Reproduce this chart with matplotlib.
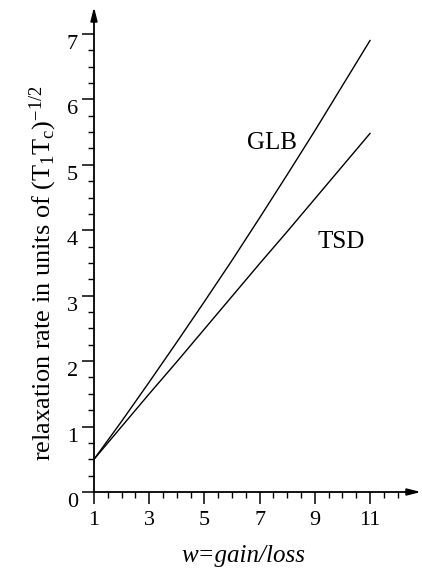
import matplotlib
matplotlib.use("Agg")
import matplotlib.pyplot as plt
from matplotlib.transforms import ScaledTranslation
from matplotlib.ticker import FixedLocator

plt.rcParams['font.family'] = ['Liberation Serif', 'DejaVu Serif']
plt.rcParams['mathtext.fontset'] = 'custom'
plt.rcParams['mathtext.rm'] = 'Liberation Serif'
plt.rcParams['mathtext.it'] = 'Liberation Serif:italic'

w = [1, 2, 3, 4, 5, 6, 7, 8, 9, 10, 11]
glb = [0.50, 1.08, 1.68, 2.29, 2.91, 3.54, 4.19, 4.85, 5.52, 6.21, 6.90]
tsd = [0.50, 1.00, 1.50, 1.99, 2.49, 2.99, 3.49, 3.98, 4.48, 4.98, 5.48]
xticks = [1, 3, 5, 7, 9, 11]
yticks = [0, 1, 2, 3, 4, 5, 6, 7]

W, H = 422, 574
fig = plt.figure(figsize=(W / 100, H / 100), dpi=100)
ax = fig.add_axes([94 / W, 82 / H, (421 - 94) / W, (492 - 7) / H])

ax.plot(w, glb, color='black', lw=1.0)
ax.plot(w, tsd, color='black', lw=1.0)

ax.set_xlim(1, 1 + (421 - 94) / 27.6)
ax.set_ylim(0, (492 - 7) / 65.43)

for s in ['top', 'right', 'left', 'bottom']:
    ax.spines[s].set_visible(False)

arrow = dict(arrowstyle='-|>,head_length=0.8,head_width=0.2',
             color='black', lw=1.3, shrinkA=0, shrinkB=0, mutation_scale=10)
ax.annotate('', xy=(1.0, 0), xycoords=('axes fraction', 'data'),
            xytext=(0.0, 0), textcoords=('axes fraction', 'data'),
            arrowprops=arrow, annotation_clip=False)
ax.annotate('', xy=(1, 1.0), xycoords=('data', 'axes fraction'),
            xytext=(1, 0.0), textcoords=('data', 'axes fraction'),
            arrowprops=arrow, annotation_clip=False)

ax.xaxis.set_major_locator(FixedLocator(xticks))
ax.xaxis.set_minor_locator(FixedLocator([1 + 0.5 * i for i in range(23) if (1 + 0.5 * i) not in xticks]))
ax.yaxis.set_major_locator(FixedLocator(yticks))
ax.yaxis.set_minor_locator(FixedLocator([0.25 * i for i in range(29) if (0.25 * i) not in yticks]))

ax.tick_params(axis='both', which='major', direction='out', length=8.5, width=1.1,
               labelsize=16, pad=3)
ax.tick_params(axis='x', which='major', pad=5)
ax.tick_params(axis='both', which='minor', direction='out', length=4.5, width=1.0)

offset = ScaledTranslation(0, -8 / 100, fig.dpi_scale_trans)
for lab in ax.get_yticklabels():
    lab.set_transform(lab.get_transform() + offset)

ax.text(7.45, 5.33, 'GLB', fontsize=18, ha='center', va='center')
ax.text(9.95, 3.82, 'TSD', fontsize=18, ha='center', va='center')

fig.text(243 / W, 1 - 556 / H, 'w=gain/loss', fontsize=18, style='italic',
         ha='center', va='center')
fig.text(43 / W, 1 - 273 / H,
         r'relaxation rate in units of (T$_\mathregular{1}$T$_\mathregular{c}$)$^\mathregular{-1/2}$',
         fontsize=19, rotation=90, ha='center', va='center')

fig.savefig('out.png', dpi=100)
